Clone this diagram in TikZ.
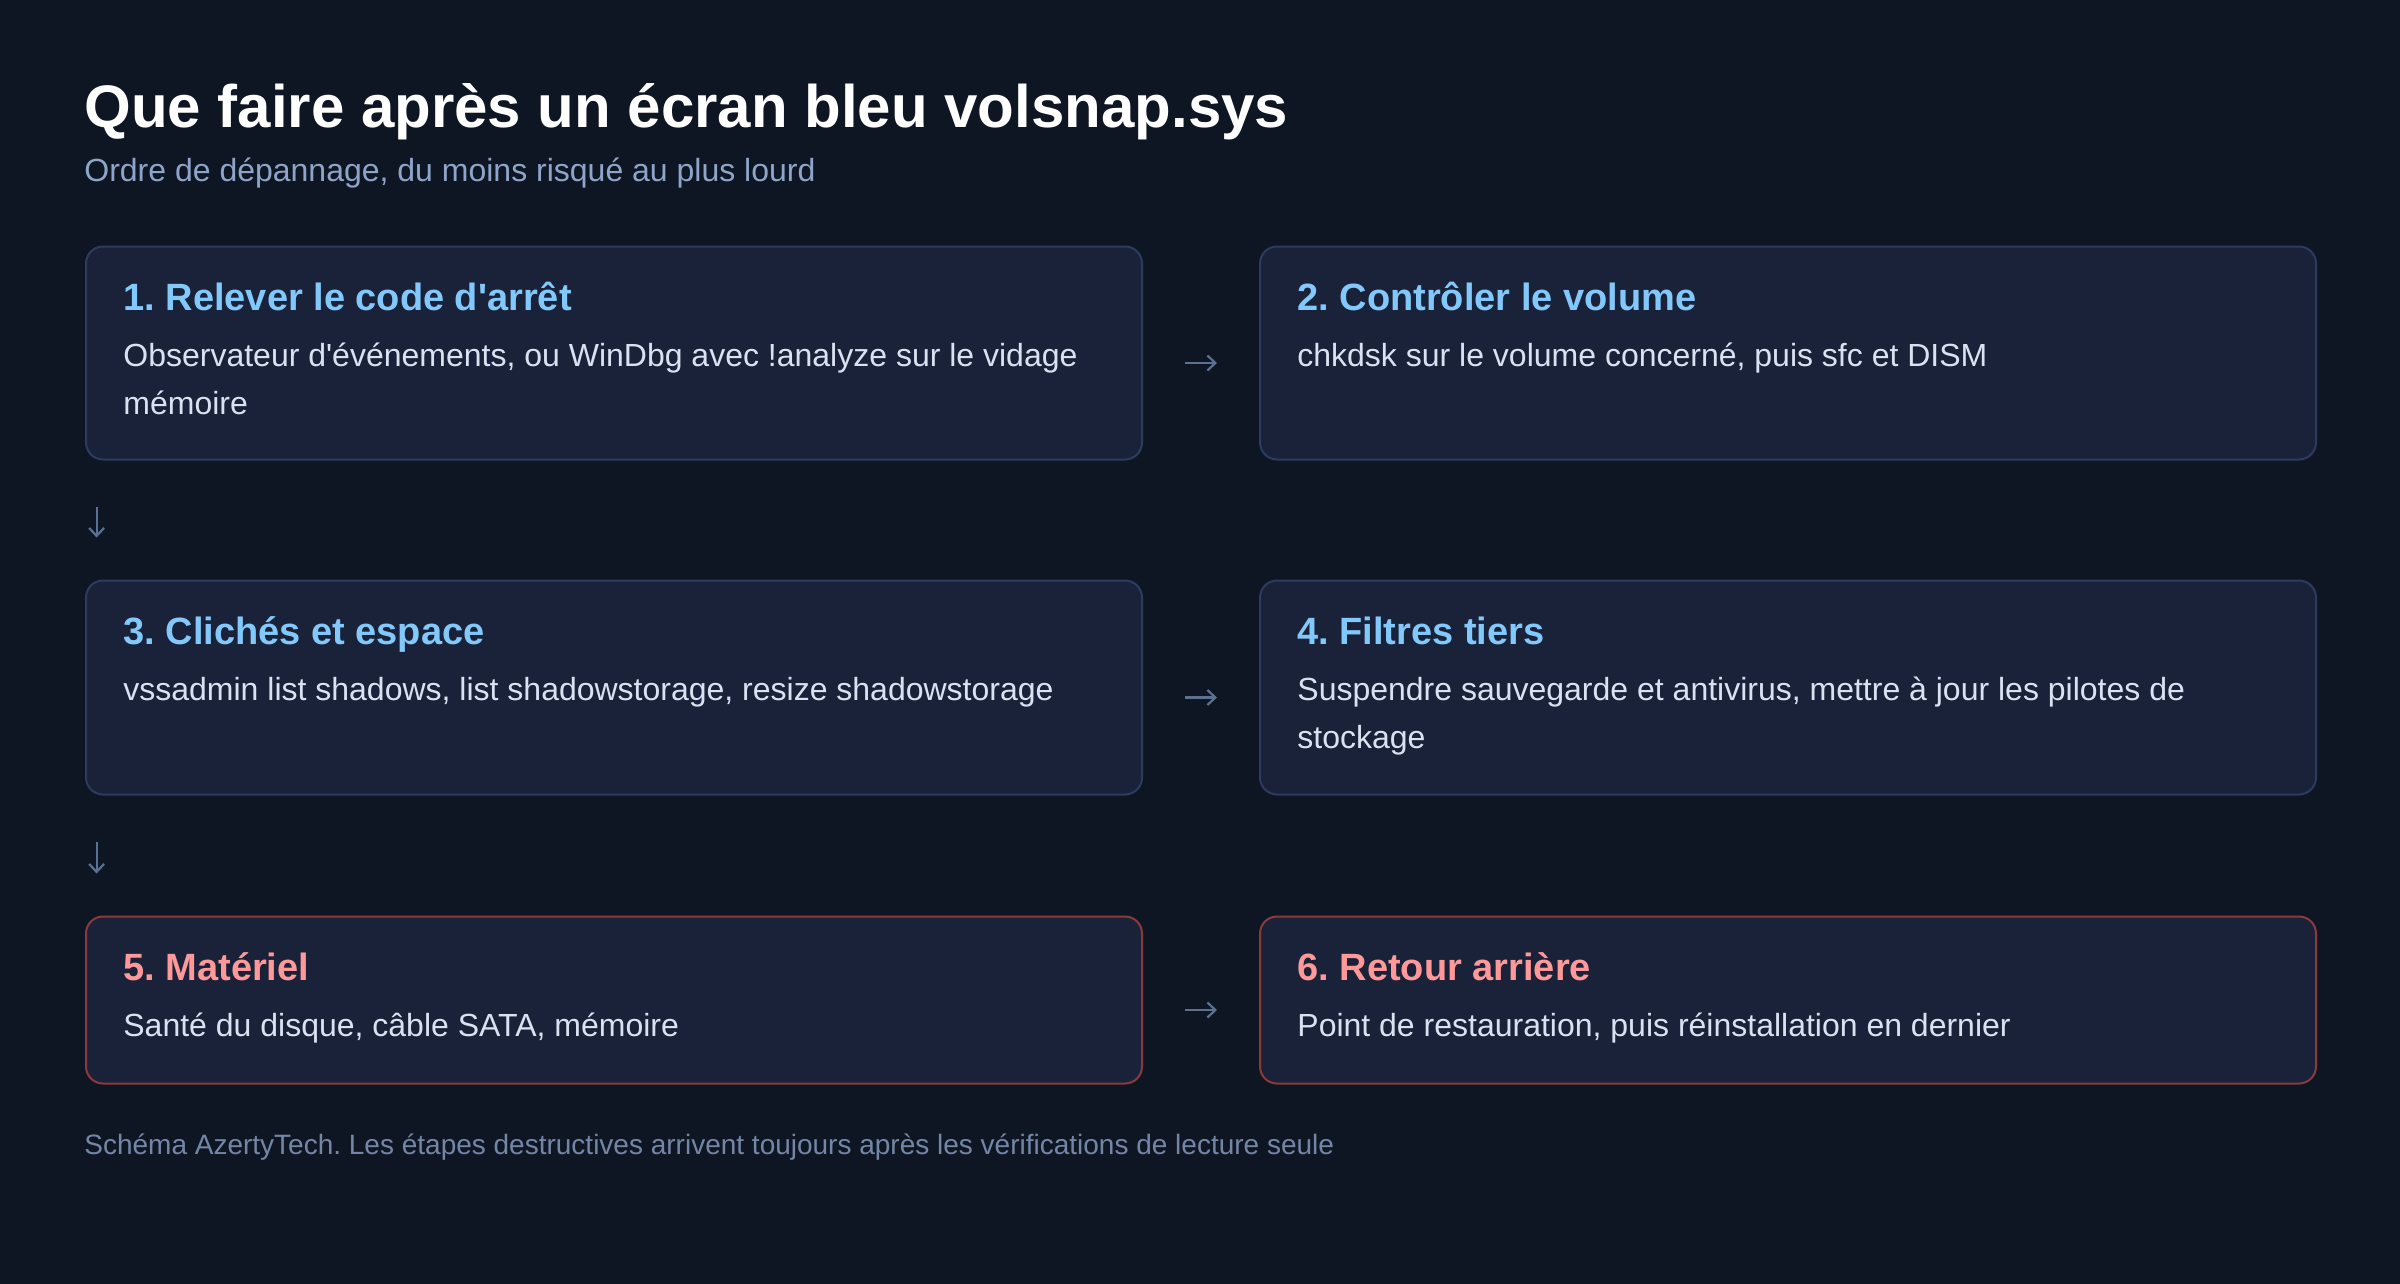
\documentclass[tikz,border=0pt]{standalone}
\usepackage{fontspec}
\setmainfont{Liberation Sans}
\usetikzlibrary{arrows.meta}
\frenchspacing
\definecolor{bg}{RGB}{15,22,35}
\definecolor{boxfill}{RGB}{25,34,57}
\definecolor{blueborder}{RGB}{44,60,94}
\definecolor{redborder}{RGB}{140,58,62}
\definecolor{bluetitle}{RGB}{130,200,250}
\definecolor{redtitle}{RGB}{255,152,152}
\definecolor{bodytext}{RGB}{218,226,242}
\definecolor{subtext}{RGB}{142,164,200}
\definecolor{foottext}{RGB}{116,134,166}
\definecolor{arrowcol}{RGB}{92,112,146}
\tikzset{
  box/.style={draw=blueborder, fill=boxfill, line width=1pt, rounded corners=8.5pt,
    minimum width=528pt, anchor=north west, inner sep=0pt},
  redbox/.style={box, draw=redborder},
  ttl/.style={text=bluetitle, font=\fontsize{19}{23}\selectfont\bfseries, anchor=base west, inner sep=0pt},
  redttl/.style={ttl, text=redtitle},
  body/.style={text=bodytext, font=\fontsize{16}{24}\selectfont, anchor=base west, inner sep=0pt, align=left},
  flow/.style={draw=arrowcol, line width=1.1pt, -{Straight Barb[length=4pt,width=7.5pt]}},
}
\begin{document}
\begin{tikzpicture}[x=1pt,y=-1pt]
\fill[bg] (0,0) rectangle (1200,642);
\useasboundingbox (0,0) rectangle (1200,642);

\node[anchor=base west, inner sep=0pt, text=white, font=\fontsize{30}{36}\selectfont\bfseries] (title) at (42,64) {Que faire après un écran bleu volsnap.sys};
\node[anchor=base west, inner sep=0pt, text=subtext, font=\fontsize{16}{20}\selectfont] (subtitle) at (42,90.8) {Ordre de dépannage, du moins risqué au plus lourd};

% row 1
\node[box, minimum height=106.5pt] (b1) at (42.5,122.75) {};
\node[box, minimum height=106.5pt] (b2) at (629.5,122.75) {};
% row 2
\node[box, minimum height=107pt] (b3) at (42.5,289.75) {};
\node[box, minimum height=107pt] (b4) at (629.5,289.75) {};
% row 3
\node[redbox, minimum height=83.5pt] (b5) at (42.5,457.75) {};
\node[redbox, minimum height=83.5pt] (b6) at (629.5,457.75) {};

\node[ttl] (t1) at ([xshift=19pt,yshift=-32.25pt]b1.north west) {1. Relever le code d\textquotesingle arrêt};
\node[body] (d1) at ([xshift=19pt,yshift=-84.25pt]b1.north west) {Observateur d\textquotesingle événements, ou WinDbg avec !analyze sur le vidage\\mémoire};
\node[ttl] (t2) at ([xshift=19pt,yshift=-32.25pt]b2.north west) {2. Contrôler le volume};
\node[body] (d2) at ([xshift=19pt,yshift=-60.25pt]b2.north west) {chkdsk sur le volume concerné, puis sfc et DISM};
\node[ttl] (t3) at ([xshift=19pt,yshift=-32.25pt]b3.north west) {3. Clichés et espace};
\node[body] (d3) at ([xshift=19pt,yshift=-60.25pt]b3.north west) {vssadmin list shadows, list shadowstorage, resize shadowstorage};
\node[ttl] (t4) at ([xshift=19pt,yshift=-32.25pt]b4.north west) {4. Filtres tiers};
\node[body] (d4) at ([xshift=19pt,yshift=-84.25pt]b4.north west) {Suspendre sauvegarde et antivirus, mettre à jour les pilotes de\\stockage};
\node[redttl] (t5) at ([xshift=19pt,yshift=-32.25pt]b5.north west) {5. Matériel};
\node[body] (d5) at ([xshift=19pt,yshift=-60.25pt]b5.north west) {Santé du disque, câble SATA, mémoire};
\node[redttl] (t6) at ([xshift=19pt,yshift=-32.25pt]b6.north west) {6. Retour arrière};
\node[body] (d6) at ([xshift=19pt,yshift=-60.25pt]b6.north west) {Point de restauration, puis réinstallation en dernier};

% arrows
\draw[flow, shorten <=21pt, shorten >=21pt] ([yshift=-5pt]b1.east) -- ([yshift=-5pt]b2.west);
\draw[flow, shorten <=21pt, shorten >=21pt] ([yshift=-5pt]b3.east) -- ([yshift=-5pt]b4.west);
\draw[flow, shorten <=21pt, shorten >=21pt] ([yshift=-5pt]b5.east) -- ([yshift=-5pt]b6.west);
\draw[flow, shorten <=23pt, shorten >=21pt] ([xshift=5.8pt]b1.south west) -- ([xshift=5.8pt]b3.north west);
\draw[flow, shorten <=23pt, shorten >=21pt] ([xshift=5.8pt]b3.south west) -- ([xshift=5.8pt]b5.north west);

\node[anchor=base west, inner sep=0pt, text=foottext, font=\fontsize{14}{17}\selectfont] (footer) at (42,577) {Schéma AzertyTech. Les étapes destructives arrivent toujours après les vérifications de lecture seule};
\end{tikzpicture}
\end{document}
